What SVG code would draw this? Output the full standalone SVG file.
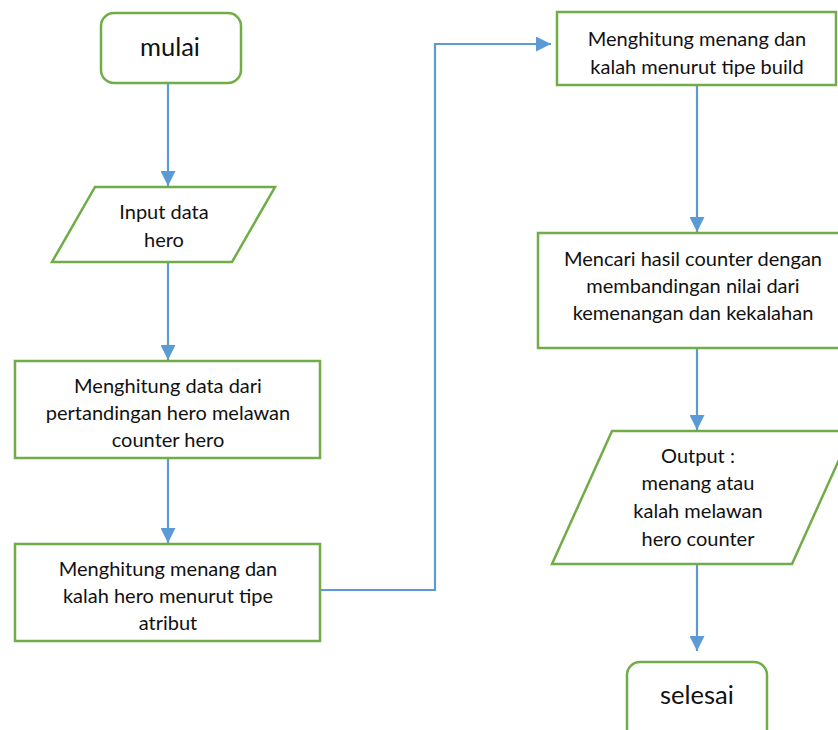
<svg xmlns="http://www.w3.org/2000/svg" width="838" height="730" viewBox="0 0 838 730">
  <defs>
    <style>
      .shape { fill: #ffffff; stroke: #70AD47; stroke-width: 2.5; }
      .conn { fill: none; stroke: #5B9BD5; stroke-width: 2.2; }
      .lbl { font-family: Lato, "Open Sans", "Liberation Sans", sans-serif; font-size: 20px; fill: #111111; text-anchor: middle; }
      .big { font-size: 25.5px; }
    </style>
    <marker id="arrow" markerUnits="userSpaceOnUse" markerWidth="16" markerHeight="15" refX="15" refY="7.5" orient="auto">
      <path d="M0,0 L15,7.5 L0,15 Z" fill="#5B9BD5"/>
    </marker>
  </defs>
  <rect width="838" height="730" fill="#ffffff"/>

  <g id="connectors">
    <line class="conn" x1="168" y1="84" x2="168" y2="186" marker-end="url(#arrow)"/>
    <line class="conn" x1="168" y1="263" x2="168" y2="360" marker-end="url(#arrow)"/>
    <line class="conn" x1="168" y1="459" x2="168" y2="543" marker-end="url(#arrow)"/>
    <polyline class="conn" points="321,590 435,590 435,44 551,44" marker-end="url(#arrow)"/>
    <line class="conn" x1="697" y1="86" x2="697" y2="232" marker-end="url(#arrow)"/>
    <line class="conn" x1="697" y1="349" x2="697" y2="430" marker-end="url(#arrow)"/>
    <line class="conn" x1="697" y1="565" x2="697" y2="651" marker-end="url(#arrow)"/>
  </g>

  <g id="mulai">
    <rect class="shape" x="101" y="13" width="140" height="70" rx="13"/>
    <text class="lbl big" x="170" y="56">mulai</text>
  </g>

  <g id="input-data">
    <polygon class="shape" points="95,187 275,187 232,262 52,262"/>
    <text class="lbl" x="164" y="219">Input data</text>
    <text class="lbl" x="164" y="247">hero</text>
  </g>

  <g id="hitung-data">
    <rect class="shape" x="15" y="361" width="305" height="97"/>
    <text class="lbl" x="168" y="393">Menghitung data dari</text>
    <text class="lbl" x="168" y="420">pertandingan hero melawan</text>
    <text class="lbl" x="168" y="447">counter hero</text>
  </g>

  <g id="hitung-atribut">
    <rect class="shape" x="15" y="544" width="305" height="97"/>
    <text class="lbl" x="168" y="576">Menghitung menang dan</text>
    <text class="lbl" x="168" y="603">kalah hero menurut tipe</text>
    <text class="lbl" x="168" y="630">atribut</text>
  </g>

  <g id="hitung-build">
    <rect class="shape" x="557" y="12" width="279" height="73"/>
    <text class="lbl" x="697" y="46">Menghitung menang dan</text>
    <text class="lbl" x="697" y="74">kalah menurut tipe build</text>
  </g>

  <g id="cari-counter">
    <rect class="shape" x="538" y="233" width="312" height="115"/>
    <text class="lbl" x="693" y="266">Mencari hasil counter dengan</text>
    <text class="lbl" x="693" y="293">membandingan nilai dari</text>
    <text class="lbl" x="693" y="320">kemenangan dan kekalahan</text>
  </g>

  <g id="output">
    <polygon class="shape" points="612,431 852,431 792,564 552,564"/>
    <text class="lbl" x="698" y="463">Output :</text>
    <text class="lbl" x="698" y="490">menang atau</text>
    <text class="lbl" x="698" y="518">kalah melawan</text>
    <text class="lbl" x="698" y="546">hero counter</text>
  </g>

  <g id="selesai">
    <rect class="shape" x="627" y="662" width="140" height="80" rx="13"/>
    <text class="lbl big" x="697" y="704">selesai</text>
  </g>
</svg>
